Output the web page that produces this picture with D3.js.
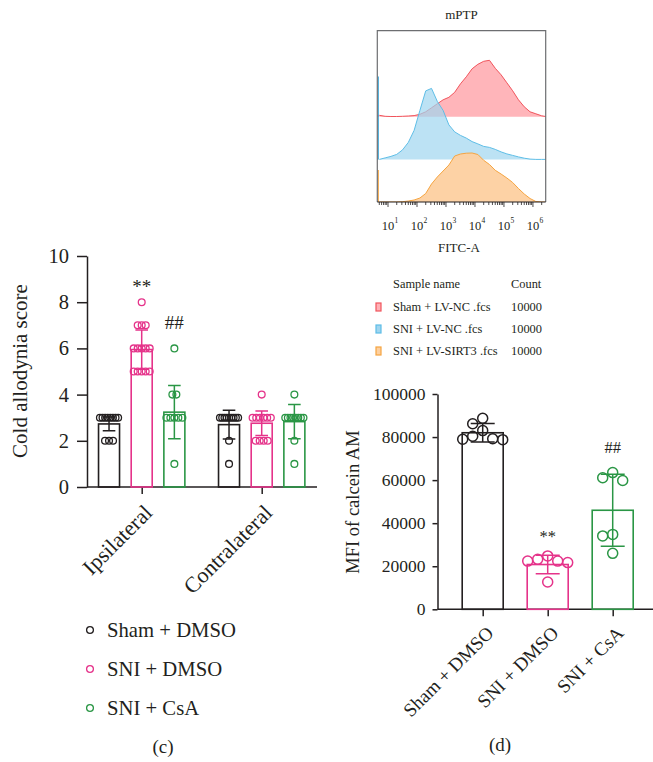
<!DOCTYPE html>
<html lang="en">
<head>
<meta charset="UTF-8">
<title>mPTP, cold allodynia and calcein AM</title>
<script src="https://d3js.org/d3.v7.min.js"></script>
<style>
  body { margin: 0; background: #fff; }
  svg text { font-family: "Liberation Serif", "Times New Roman", serif; fill: #231f20; }
  .axis path, .axis line { stroke: #231f20; stroke-width: 1.5; }
  .axis text { font-family: "Liberation Serif", serif; fill: #231f20; }
</style>
</head>
<body>
<svg id="fig" width="653" height="762"></svg>
<script>
// ---------- flow histogram (mPTP) ----------
const binLog = [0.7, 0.9, 1.1, 1.3, 1.5, 1.7, 1.9, 2.1, 2.3, 2.5, 2.7, 2.9, 3.1, 3.3, 3.5,
  3.7, 3.9, 4.1, 4.3, 4.5, 4.7, 4.9, 5.1, 5.3, 5.5, 5.7, 5.9, 6.1, 6.3, 6.5];
const histSham = [1.5, 0.5, 0.3, 0.3, 0.5, 0.8, 1.2, 2.5, 5, 9, 13, 17, 19.5, 24.5, 33,
  40, 48, 52.5, 55.5, 56.5, 48.5, 42, 34, 26, 17, 10, 5, 3, 1, 0];
const histSNI = [0, 1.5, 3, 5, 9.5, 17, 29, 49, 68.5, 71, 58, 49, 34.5, 27.5, 24,
  21.3, 17.8, 15.5, 13, 12, 10, 7.5, 5.5, 4, 2.5, 1.2, 0.3, 0, 0, 0];
const histSIRT3 = [0, 0, 0, 0, 0.3, 1, 2, 4, 8.5, 18, 25, 31, 37, 46, 48,
  48.8, 49, 47.5, 41.7, 37.5, 31.7, 28, 24, 19.5, 13.5, 8, 3.5, 0.5, 0, 0];
const pileup = [2, 83, 32];   // events stacked on the low edge
const flowNames = ["Sham + LV-NC .fcs", "SNI + LV-NC .fcs", "SNI + LV-SIRT3 .fcs"];
const flowCounts = [10000, 10000, 10000];
const flowDecades = [1, 2, 3, 4, 5, 6];

// ---------- (c) cold allodynia ----------
const sides = ["Ipsilateral", "Contralateral"];
const groups = ["Sham + DMSO", "SNI + DMSO", "SNI + CsA"];
const coldMean = [[2.73, 5.95, 3.24], [2.7, 2.76, 2.83]];
const coldSD = [[0.3, 0.85, 1.15], [0.62, 0.53, 0.74]];
const coldPoints = [
  [[3, 3, 3, 3, 3, 3, 3, 3, 2, 2, 2], [8, 7, 7, 7, 6, 6, 6, 6, 6, 5, 5, 5, 5, 5], [6, 4, 4, 3, 3, 3, 3, 3, 1]],
  [[3, 3, 3, 3, 3, 3, 3, 3, 3, 2, 1], [4, 3, 3, 3, 3, 3, 3, 2, 2, 2, 2], [4, 3, 3, 3, 3, 3, 3, 3, 3, 2, 1]]
];
const coldSig = [["", "**", "##"], ["", "", ""]];
const coldTicks = [0, 2, 4, 6, 8, 10];

// ---------- (d) calcein AM ----------
const mfiMean = [82000, 20800, 46000];
const mfiSD = [4300, 4300, 16700];
const mfiPoints = [
  [88700, 86200, 83000, 79000, 78800, 79200, 80400],
  [24800, 22400, 23200, 12700, 21700, 22400],
  [63500, 59800, 61100, 34100, 34800, 26000]
];
const mfiSig = ["", "**", "##"];
const mfiTicks = [0, 20000, 40000, 60000, 80000, 100000];

const colors = ["#231f20", "#e5338a", "#2a9645"];
const flowStroke = ["#f0545c", "#5dbde6", "#f5a440"];
const flowFill = ["#ffb1b6", "#9fd5ef", "#fdd0a0"];

const svg = d3.select("#fig");

// spread points that share a value across the bar (Prism style rows)
function rowOffsets(vals, bw, r) {
  const out = new Array(vals.length);
  d3.group(vals.map((v, i) => ({ v, i })), d => d.v).forEach(list => {
    const n = list.length;
    const step = n > 1 ? Math.min(4, (bw - 2 * r + 4) / (n - 1)) : 0;
    list.forEach((d, k) => { out[d.i] = (k - (n - 1) / 2) * step; });
  });
  return out;
}

// simple dodge so circles do not sit on top of each other
function dodge(ys, minDist, step) {
  const placed = [];
  const order = d3.range(ys.length).sort((a, b) => ys[a] - ys[b]);
  const out = new Array(ys.length);
  order.forEach(i => {
    for (let k = 0; k < 20; k++) {
      const off = (k % 2 ? -1 : 1) * Math.ceil(k / 2) * step;
      if (placed.every(p => Math.hypot(p.x - off, p.y - ys[i]) >= minDist)) {
        placed.push({ x: off, y: ys[i] });
        out[i] = off;
        break;
      }
    }
  });
  return out;
}

// =================== flow histogram ===================
{
  const left = 377.3, right = 545.7, top = 30.7, bottom = 202;
  const lane = 42.6;
  const fx = d3.scaleLog().domain([10 ** 0.63, 10 ** 6.44]).range([left, right]);
  const hy = d3.scaleLinear().domain([0, 100]).range([0, 100]);
  const g = svg.append("g");

  g.append("clipPath").attr("id", "boxclip")
    .append("rect").attr("x", left).attr("y", top).attr("width", right - left).attr("height", bottom - top);

  const hists = [histSham, histSNI, histSIRT3];
  const layers = g.append("g").attr("clip-path", "url(#boxclip)");
  hists.forEach((h, i) => {
    const base = bottom - lane * (2 - i);
    const pts = binLog.map((b, j) => ({ b, c: h[j] }));
    const area = d3.area()
      .x(d => fx(10 ** d.b))
      .y0(base)
      .y1(d => base - hy(d.c));
    layers.append("path").datum(pts)
      .attr("d", area)
      .attr("fill", flowFill[i])
      .attr("fill-opacity", i === 1 ? 0.7 : 0.95)
      .attr("stroke", "none");
    layers.append("path").datum(pts)
      .attr("d", area.lineY1())
      .attr("fill", "none")
      .attr("stroke", flowStroke[i])
      .attr("stroke-width", 1);
    layers.append("line")
      .attr("x1", left + 1).attr("x2", left + 1)
      .attr("y1", base).attr("y2", base - hy(pileup[i]))
      .attr("stroke", i === 1 ? "#3aa6d8" : flowStroke[i])
      .attr("stroke-width", 1.1);
  });

  // frame
  g.append("path")
    .attr("d", `M${left},${bottom}V${top}H${right}V${bottom}`)
    .attr("fill", "none").attr("stroke", "#6d6e71").attr("stroke-width", 1.2);
  g.append("line").attr("x1", left).attr("x2", right).attr("y1", bottom).attr("y2", bottom)
    .attr("stroke", "#231f20").attr("stroke-width", 1.2);

  // log ticks
  const ticks = [];
  for (let d = 0; d <= 6; d++) {
    for (let k = 1; k <= 9; k++) {
      const v = k * 10 ** d;
      if (v >= fx.domain()[0] && v <= fx.domain()[1]) ticks.push({ v, major: k === 1 });
    }
  }
  g.selectAll("line.ftick").data(ticks).join("line")
    .attr("class", "ftick")
    .attr("x1", d => fx(d.v)).attr("x2", d => fx(d.v))
    .attr("y1", bottom).attr("y2", d => bottom + (d.major ? 5 : 3))
    .attr("stroke", "#231f20").attr("stroke-width", 0.8);

  const lab = g.selectAll("g.flab").data(flowDecades).join("g")
    .attr("transform", d => `translate(${fx(10 ** d)},229.5)`);
  lab.append("text").attr("text-anchor", "middle").attr("font-size", 12.5).text("10");
  lab.append("text").attr("x", 6.5).attr("y", -6.5).attr("font-size", 7.5).text(d => d);

  g.append("text").attr("x", 461.5).attr("y", 19).attr("text-anchor", "middle")
    .attr("font-size", 13).text("mPTP");
  g.append("text").attr("x", 459).attr("y", 252).attr("text-anchor", "middle")
    .attr("font-size", 13).text("FITC-A");

  // sample table
  const lg = svg.append("g").attr("font-size", 12.4);
  lg.append("text").attr("x", 393).attr("y", 288).text("Sample name");
  lg.append("text").attr("x", 511).attr("y", 288).text("Count");
  const rowY = d3.scalePoint().domain(flowNames).range([307, 351]);
  const rows = lg.selectAll("g.row").data(flowNames).join("g")
    .attr("transform", d => `translate(0,${rowY(d)})`);
  rows.append("rect").attr("x", 376).attr("y", -4).attr("width", 5).attr("height", 8)
    .attr("fill", (d, i) => flowFill[i]).attr("stroke", (d, i) => flowStroke[i]).attr("stroke-width", 1.2);
  rows.append("text").attr("x", 393).attr("y", 4).text(d => d);
  rows.append("text").attr("x", 511).attr("y", 4).text((d, i) => flowCounts[i]);
}

// =================== (c) cold allodynia ===================
{
  const x0 = 87, x1 = 317;
  const cy = d3.scaleLinear().domain([0, 10]).range([487, 256]);
  const cx = d3.scalePoint().domain(sides).range([141.7, 261.7]);
  const sub = d3.scaleBand().domain(groups).range([-49, 49]);
  const bw = 21, r = 3.4;
  const g = svg.append("g");

  g.append("g").attr("class", "axis").attr("transform", `translate(${x0},0)`)
    .call(d3.axisLeft(cy).tickValues(coldTicks).tickSize(10).tickSizeOuter(0).tickPadding(8))
    .call(a => a.selectAll("text").attr("font-size", 20.5));
  g.append("g").attr("class", "axis").attr("transform", "translate(0,487)")
    .call(d3.axisBottom(cx).tickSize(7).tickFormat(""))
    .call(a => a.select(".domain").remove());
  g.append("line").attr("x1", x0).attr("x2", x1).attr("y1", 487).attr("y2", 487)
    .attr("stroke", "#231f20").attr("stroke-width", 1.5);

  sides.forEach((s, si) => {
    groups.forEach((gr, gi) => {
      const cxp = cx(s) + sub(gr) + sub.bandwidth() / 2;
      const m = coldMean[si][gi], sd = coldSD[si][gi], col = colors[gi];
      g.append("rect")
        .attr("x", cxp - bw / 2).attr("y", cy(m))
        .attr("width", bw).attr("height", cy(0) - cy(m))
        .attr("fill", "none").attr("stroke", col).attr("stroke-width", 1.6);
      const cap = bw * 0.6;
      g.append("path")
        .attr("d", `M${cxp},${cy(m - sd)}V${cy(m + sd)}M${cxp - cap / 2},${cy(m + sd)}H${cxp + cap / 2}M${cxp - cap / 2},${cy(m - sd)}H${cxp + cap / 2}`)
        .attr("fill", "none").attr("stroke", col).attr("stroke-width", 1.5);
      const pts = coldPoints[si][gi];
      const offs = rowOffsets(pts, bw, r);
      g.selectAll(null).data(pts).join("circle")
        .attr("cx", (d, i) => cxp + offs[i]).attr("cy", d => cy(d)).attr("r", r)
        .attr("fill", "none").attr("stroke", col).attr("stroke-width", 1.3);
      const sig = coldSig[si][gi];
      if (sig) {
        g.append("text").attr("x", cxp).attr("y", cy(d3.max(pts)) - (sig[0] === "*" ? 9 : 19))
          .attr("text-anchor", "middle").attr("font-size", 19).text(sig);
      }
    });
  });

  g.selectAll("text.xl").data(sides).join("text")
    .attr("class", "xl").attr("text-anchor", "end").attr("font-size", 22)
    .attr("transform", d => `translate(${cx(d) + 12},${487 + 27}) rotate(-45)`)
    .text(d => d);

  g.append("text").attr("transform", `translate(27,${371}) rotate(-90)`)
    .attr("text-anchor", "middle").attr("font-size", 21).text("Cold allodynia score");

  const ly = d3.scalePoint().domain(groups).range([630, 708]);
  const leg = g.selectAll("g.leg").data(groups).join("g")
    .attr("transform", d => `translate(90,${ly(d)})`);
  leg.append("circle").attr("r", 3.4).attr("fill", "none")
    .attr("stroke", (d, i) => colors[i]).attr("stroke-width", 1.3);
  leg.append("text").attr("x", 17).attr("y", 7).attr("font-size", 20.7).text(d => d);

  g.append("text").attr("x", 163).attr("y", 753).attr("text-anchor", "middle")
    .attr("font-size", 19).text("(c)");
}

// =================== (d) calcein AM ===================
{
  const x0 = 437.5, x1 = 653;
  const dy = d3.scaleLinear().domain([0, 100000]).range([609.3, 394]);
  const dx = d3.scalePoint().domain(groups).range([482.7, 612.7]);
  const bw = 41, r = 5;
  const g = svg.append("g");

  g.append("g").attr("class", "axis").attr("transform", `translate(${x0},0)`)
    .call(d3.axisLeft(dy).tickValues(mfiTicks).tickFormat(d3.format("d")).tickSize(5).tickSizeOuter(0).tickPadding(7))
    .call(a => a.selectAll("text").attr("font-size", 17.5));
  g.append("g").attr("class", "axis").attr("transform", "translate(0,609.3)")
    .call(d3.axisBottom(dx).tickSize(7).tickFormat(""))
    .call(a => a.select(".domain").remove());
  g.append("line").attr("x1", x0).attr("x2", x1).attr("y1", 609.3).attr("y2", 609.3)
    .attr("stroke", "#231f20").attr("stroke-width", 1.5);

  groups.forEach((gr, gi) => {
    const c = dx(gr), m = mfiMean[gi], sd = mfiSD[gi], col = colors[gi];
    g.append("rect")
      .attr("x", c - bw / 2).attr("y", dy(m))
      .attr("width", bw).attr("height", dy(0) - dy(m))
      .attr("fill", "none").attr("stroke", col).attr("stroke-width", 1.6);
    const cap = 24;
    g.append("path")
      .attr("d", `M${c},${dy(m - sd)}V${dy(m + sd)}M${c - cap / 2},${dy(m + sd)}H${c + cap / 2}M${c - cap / 2},${dy(m - sd)}H${c + cap / 2}`)
      .attr("fill", "none").attr("stroke", col).attr("stroke-width", 1.5);
    const pts = mfiPoints[gi];
    const offs = dodge(pts.map(dy), 9.5, 10);
    g.selectAll(null).data(pts).join("circle")
      .attr("cx", (d, i) => c + offs[i]).attr("cy", d => dy(d)).attr("r", r)
      .attr("fill", "none").attr("stroke", col).attr("stroke-width", 1.5);
    if (mfiSig[gi]) {
      const topVal = Math.max(d3.max(pts), m + sd);
      g.append("text").attr("x", c).attr("y", dy(topVal) - (mfiSig[gi][0] === "*" ? 13 : 20))
        .attr("text-anchor", "middle").attr("font-size", 16.5).text(mfiSig[gi]);
    }
  });

  g.selectAll("text.xl").data(groups).join("text")
    .attr("class", "xl").attr("text-anchor", "end").attr("font-size", 19)
    .attr("transform", d => `translate(${dx(d) + 12},${609.3 + 25}) rotate(-45)`)
    .text(d => d);

  g.append("text").attr("transform", `translate(359,502) rotate(-90)`)
    .attr("text-anchor", "middle").attr("font-size", 18.5).text("MFI of calcein AM");

  g.append("text").attr("x", 500).attr("y", 751).attr("text-anchor", "middle")
    .attr("font-size", 19).text("(d)");
}
</script>
</body>
</html>
